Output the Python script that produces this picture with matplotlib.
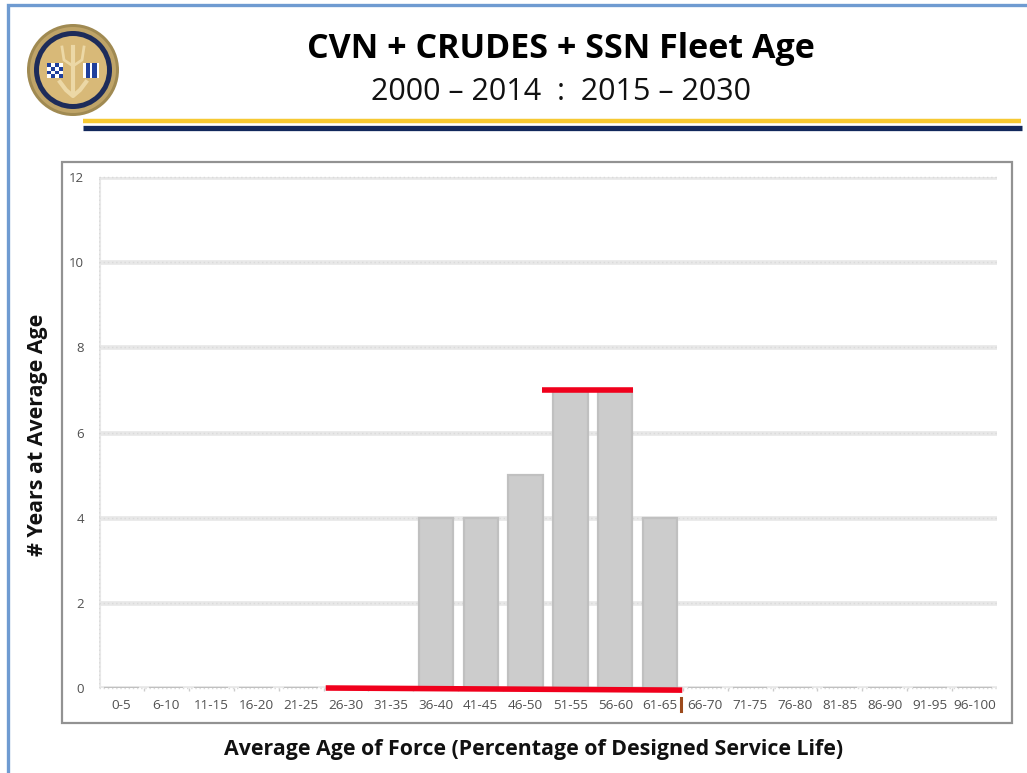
import matplotlib
matplotlib.use('Agg')
import matplotlib.pyplot as plt
from matplotlib.patches import Circle, Rectangle

categories = ['0-5', '6-10', '11-15', '16-20', '21-25', '26-30', '31-35', '36-40', '41-45', '46-50',
              '51-55', '56-60', '61-65', '66-70', '71-75', '76-80', '81-85', '86-90', '91-95', '96-100']
years = [0, 0, 0, 0, 0, 0, 0, 4, 4, 5, 7, 7, 4, 0, 0, 0, 0, 0, 0, 0]
yticks = [0, 2, 4, 6, 8, 10, 12]

# red marks drawn over the chart
top_line_x = [9.37, 11.39]
top_line_y = [7, 7]
base_line_x = [4.55, 12.49]
base_line_y = [0.0, -0.05]

W, H = 1027, 773
plt.rcParams['font.family'] = ['Open Sans', 'DejaVu Sans']

fig = plt.figure(figsize=(W / 100, H / 100), dpi=100, facecolor='white')

# background layer in pixels: slide border, header, logo, chart frame
bg = fig.add_axes([0, 0, 1, 1])
bg.set_xlim(0, W)
bg.set_ylim(H, 0)
bg.axis('off')

bg.plot([8, 8, W], [H, 5, 5], color='#6f9bd1', lw=2.4, solid_joinstyle='miter')
bg.plot([83, 1021], [121, 121], color='#f6c933', lw=3.2, solid_capstyle='butt')
bg.plot([83, 1022], [128, 128], color='#12285c', lw=3.8, solid_capstyle='butt')
bg.text(561, 49, 'CVN + CRUDES + SSN Fleet Age', ha='center', va='center',
        fontsize=24.5, fontweight='bold', color='black')
bg.text(561, 92, '2000 \u2013 2014  :  2015 \u2013 2030', ha='center', va='center',
        fontsize=22, color='#111111')
bg.add_patch(Rectangle((62, 162), 950, 561, fc='white', ec='#929292', lw=1.6))

# logo
for r, c in [(46, '#a08a52'), (43, '#bfa468'), (39, '#1d2c5a'), (34, '#d8b978')]:
    bg.add_patch(Circle((73, 70), r, fc=c, ec='none'))
bg.plot([73, 73], [47, 92], color='#ecd8a6', lw=3)
bg.plot([62, 64, 73, 82, 84], [47, 60, 66, 60, 47], color='#ecd8a6', lw=2)
bg.plot([60, 66, 73, 80, 86], [82, 90, 96, 90, 82], color='#ecd8a6', lw=3)
bg.add_patch(Rectangle((47, 63), 16, 15, fc='white', ec='none'))
for i in range(4):
    for j in range(4):
        if (i + j) % 2 == 0:
            bg.add_patch(Rectangle((47 + i * 4, 63 + j * 3.75), 4, 3.75, fc='#1f3f9c', ec='none'))
bg.add_patch(Rectangle((83, 63), 16, 15, fc='white', ec='none'))
for i in range(2):
    bg.add_patch(Rectangle((85.5 + i * 6.5, 63), 4.5, 15, fc='#1f3f9c', ec='none'))

# small brown mark next to the 66-70 label
bg.plot([681, 681], [698, 711], color='#9c4a1c', lw=2.2)

# chart axes
ax = fig.add_axes([99 / W, 1 - 688 / H, (997 - 99) / W, (688 - 177) / H])
ax.patch.set_alpha(0)
x = list(range(len(categories)))
ax.bar(x, years, width=0.76, color='#cccccc', edgecolor='#c0c0c0', linewidth=1.6, zorder=3)
ax.plot(top_line_x, top_line_y, color='#f0001c', lw=4, solid_capstyle='butt', zorder=5, clip_on=False)
ax.plot(base_line_x, base_line_y, color='#f0001c', lw=4, solid_capstyle='butt', zorder=5, clip_on=False)

ax.set_xlim(-0.5, len(categories) - 0.5)
ax.set_ylim(0, 12)
ax.set_xticks(x)
ax.set_xticklabels(categories, fontsize=9.7, color='#505050')
ax.set_xticks([i + 0.5 for i in x[:-1]], minor=True)
ax.set_yticks(yticks)
ax.set_yticklabels(yticks, fontsize=9.5, color='#505050')
ax.tick_params(axis='both', which='major', length=0)
ax.tick_params(axis='x', which='minor', length=2, color='#cccccc', width=1)
ax.tick_params(axis='x', pad=8)
ax.tick_params(axis='y', pad=11)

ax.grid(axis='y', color='#e8e8e8', lw=3.4, zorder=1)
for t in yticks:
    ax.axhline(t, color='#dadada', lw=1, ls=(0, (1, 2)), zorder=2, clip_on=False)
ax.axvline(-0.5, color='#e8e8e8', lw=3, zorder=1)
ax.axvline(-0.5, color='#dadada', lw=1, ls=(0, (1, 2)), zorder=2)
for s in ax.spines.values():
    s.set_visible(False)

bg.text(534, 749, 'Average Age of Force (Percentage of Designed Service Life)', ha='center', va='center',
        fontsize=15.4, fontweight='bold', color='#111111')
bg.text(38, 435, '# Years at Average Age', ha='center', va='center', rotation=90,
        fontsize=15.4, fontweight='bold', color='#111111')

fig.savefig('out.png', dpi=100)
